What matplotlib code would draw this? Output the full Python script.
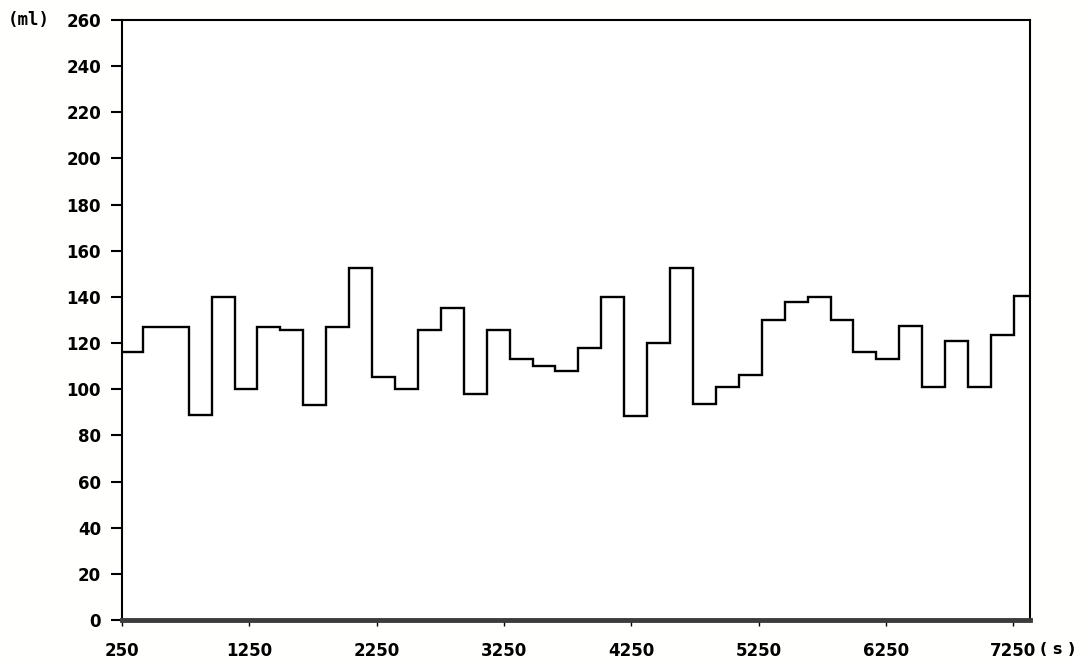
import matplotlib
matplotlib.use("Agg")
import matplotlib.pyplot as plt

# Step start times (s) and volumes (ml)
times = [250, 414, 594, 774, 954, 1134, 1314, 1494, 1674, 1854,
         2034, 2214, 2394, 2574, 2754, 2934, 3114, 3294, 3474, 3654,
         3834, 4014, 4194, 4374, 4554, 4734, 4914, 5094, 5274, 5454,
         5634, 5814, 5994, 6174, 6354, 6534, 6714, 6894, 7074, 7254]
volumes = [116, 127, 127, 89, 140, 100, 127, 125.5, 93, 127,
           152.5, 105.5, 100, 125.5, 135, 98, 125.5, 113, 110, 108,
           118, 140, 88.5, 120, 152.5, 93.5, 101, 106, 130, 138,
           140, 130, 116, 113, 127.5, 101, 121, 101, 123.5, 140.5]
end_time = 7380

x_ticks = [250, 1250, 2250, 3250, 4250, 5250, 6250, 7250]
x_labels = ["250", "1250", "2250", "3250", "4250", "5250", "6250", "7250"]
y_ticks = [0, 20, 40, 60, 80, 100, 120, 140, 160, 180, 200, 220, 240, 260]

W, H = 1081, 662
fig = plt.figure(figsize=(W / 100, H / 100), dpi=100, facecolor="#fffffd")
ax = fig.add_axes([122 / W, (H - 620) / H, (1030 - 122) / W, 600 / H])
ax.set_facecolor("white")

xs = times + [end_time]
ys = volumes + [volumes[-1]]
ax.step(xs, ys, where="post", color="black", linewidth=1.7, solid_joinstyle="miter")

ax.set_xlim(250, end_time)
ax.set_ylim(0, 260)

for side in ["left", "top", "right"]:
    ax.spines[side].set_linewidth(1.5)
    ax.spines[side].set_color("black")
ax.spines["bottom"].set_linewidth(3.5)
ax.spines["bottom"].set_color("#3c3c3c")

ax.set_xticks(x_ticks)
ax.set_xticklabels(x_labels)
ax.set_yticks(y_ticks)
ax.set_yticklabels([str(v) for v in y_ticks])

ax.tick_params(axis="y", direction="out", length=8, width=1.5, pad=7,
               labelsize=12, colors="black")
ax.tick_params(axis="x", direction="out", length=4, width=1.0, pad=12,
               labelsize=12, colors="black")
for lab in ax.get_xticklabels() + ax.get_yticklabels():
    lab.set_fontweight("bold")
    lab.set_family("DejaVu Sans")

fig.text(8 / W, 1 - 20 / H, "(ml)", ha="left", va="center",
         fontsize=12.5, fontweight="bold", family="DejaVu Sans Mono")
fig.text(1040 / W, 1 - 649 / H, "( s )", ha="left", va="center",
         fontsize=11.5, fontweight="bold", family="DejaVu Sans")

fig.savefig("out.png", dpi=100, facecolor=fig.get_facecolor())
